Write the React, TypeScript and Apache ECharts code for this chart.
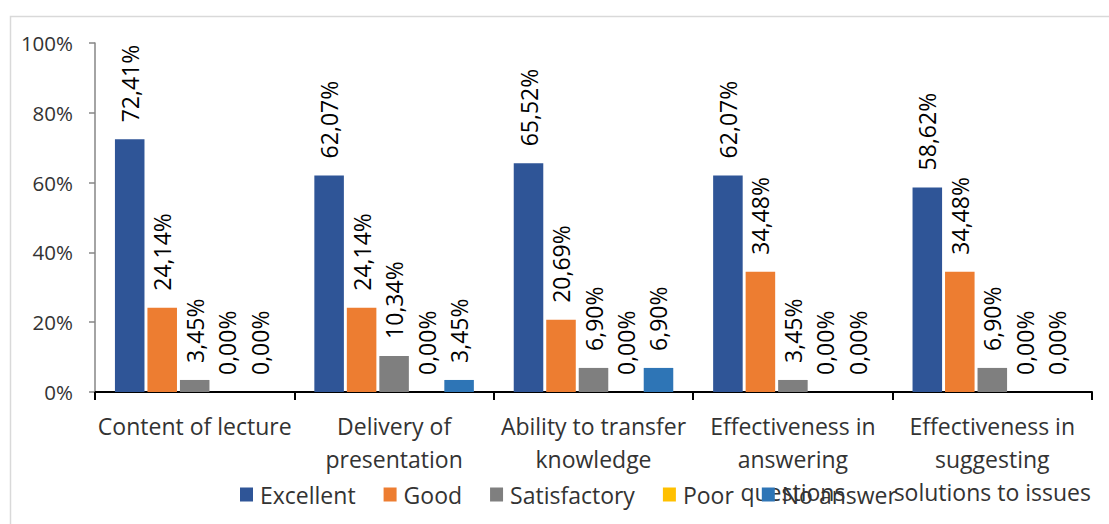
import React, { useEffect, useRef } from "react";
import * as echarts from "echarts";

const categories = [
  "Content of lecture",
  "Delivery of\npresentation",
  "Ability to transfer\nknowledge",
  "Effectiveness in\nanswering\nquestions",
  "Effectiveness in\nsuggesting\nsolutions to issues",
];
const seriesNames = ["Excellent", "Good", "Satisfactory", "Poor", "No answer"];
const excellent = [72.41, 62.07, 65.52, 62.07, 58.62];
const good = [24.14, 24.14, 20.69, 34.48, 34.48];
const satisfactory = [3.45, 10.34, 6.9, 3.45, 6.9];
const poor = [0, 0, 0, 0, 0];
const noAnswer = [0, 3.45, 6.9, 0, 0];
const yTicks = [0, 20, 40, 60, 80, 100];
const colors = ["#2F5597", "#ED7D31", "#7F7F7F", "#FFC000", "#2E75B6"];

const FONT = "Open Sans";

export default function App() {
  const ref = useRef<HTMLDivElement>(null);
  useEffect(() => {
    if (!ref.current) return;
    const chart = echarts.init(ref.current, undefined, { renderer: "svg" });
    const values = [excellent, good, satisfactory, poor, noAnswer];
    chart.setOption({
      animation: false,
      textStyle: { fontFamily: FONT },
      graphic: [
        {
          type: "rect",
          left: 8,
          top: 14,
          shape: { x: 0, y: 0, width: 1200, height: 600 },
          style: { fill: "none", stroke: "#d9d9d9", lineWidth: 1.5 },
          silent: true,
          z: -10,
        },
      ],
      grid: { left: 95, right: 17, top: 43, bottom: 132, containLabel: false },
      legend: {
        data: seriesNames,
        left: 235,
        top: 478,
        itemWidth: 13,
        itemHeight: 14,
        itemGap: 28,
        icon: "rect",
        textStyle: { fontFamily: FONT, fontSize: 23, color: "#333", padding: [0, 0, 0, 2] },
      },
      xAxis: {
        type: "category",
        data: categories,
        axisLine: { lineStyle: { color: "#000", width: 2 } },
        axisTick: { show: true, length: 8, lineStyle: { color: "#000", width: 2 } },
        axisLabel: {
          interval: 0,
          margin: 17,
          fontSize: 23,
          lineHeight: 33,
          color: "#333",
          fontFamily: FONT,
        },
      },
      yAxis: {
        type: "value",
        min: 0,
        max: 100,
        interval: 20,
        splitLine: { show: false },
        axisLine: { show: true, lineStyle: { color: "#868686", width: 1.5 } },
        axisTick: { show: true, length: 6, lineStyle: { color: "#868686", width: 1.5 } },
        axisLabel: {
          margin: 22,
          fontSize: 20.5,
          color: "#333",
          fontFamily: FONT,
          formatter: (v: number) => (yTicks.includes(v) ? v + "%" : ""),
        },
      },
      series: seriesNames.map((name, i) => ({
        name,
        type: "bar",
        data: values[i],
        barCategoryGap: "20%",
        barGap: "10%",
        itemStyle: { color: colors[i] },
        label: {
          show: true,
          position: "top",
          rotate: 90,
          align: "left",
          verticalAlign: "middle",
          distance: 17,
          fontSize: 23,
          color: "#000",
          fontFamily: FONT,
          formatter: (p: any) => Number(p.value).toFixed(2).replace(".", ",") + "%",
        },
      })),
    });
    return () => chart.dispose();
  }, []);
  return (
    <div
      ref={ref}
      style={{ position: "absolute", left: 0, top: 0, width: 1109, height: 524, background: "#fff" }}
    />
  );
}
